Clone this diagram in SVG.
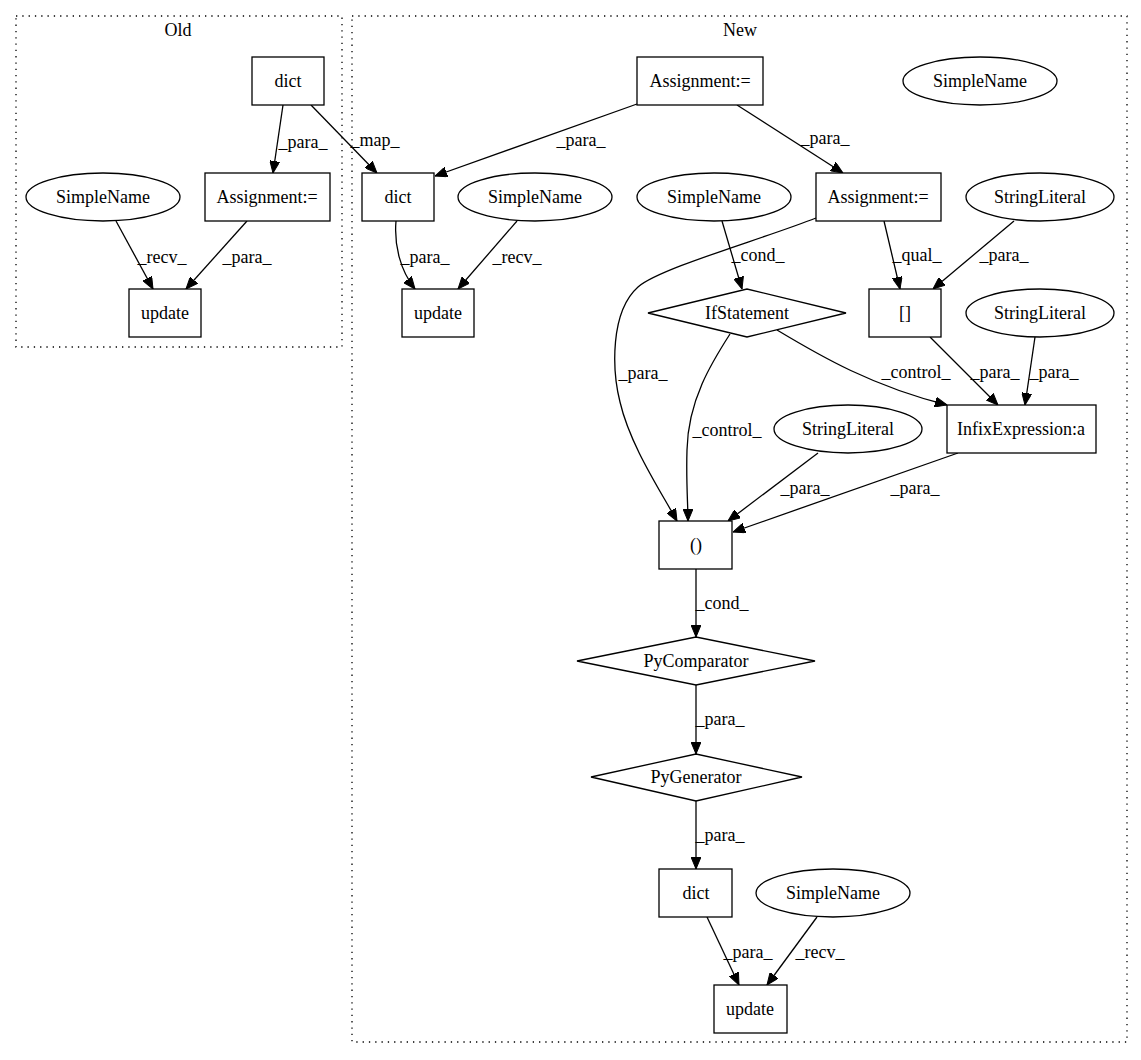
<svg xmlns="http://www.w3.org/2000/svg" width="1141" height="1060" viewBox="0 0 1141 1060">
<defs>
<marker id="ah" markerUnits="userSpaceOnUse" markerWidth="12" markerHeight="10" refX="12" refY="5" orient="auto">
<path d="M0,0 L12,5 L0,10 z" fill="#000" stroke="#000" stroke-width="1"/>
</marker>
<style>
text{font-family:"Liberation Serif","Times New Roman",serif;font-size:18px;fill:#000;text-anchor:middle}
.n rect,.n ellipse,.n polygon{fill:#fff;stroke:#000;stroke-width:1.3}
.cl{fill:none;stroke:#000;stroke-width:1.3;stroke-dasharray:1.3,5}
#edges path{fill:none;stroke:#000;stroke-width:1.3;marker-end:url(#ah)}
</style>
</defs>
<rect width="1141" height="1060" fill="#fff"/>
<g id="cluster_old"><rect class="cl" x="16" y="16" width="326" height="331"/><text x="178" y="36">Old</text></g>
<g id="cluster_new"><rect class="cl" x="352" y="16" width="775" height="1026"/><text x="740" y="36">New</text></g>

<g id="edges">
<path d="M283,105 L273,173"/>
<path d="M311,105 L377,173"/>
<path d="M116,221 L153,289"/>
<path d="M247,221 L186,289"/>
<path d="M637,104 L435,176"/>
<path d="M737,105 L843,173"/>
<path d="M396,221 C394,245 400,270 415,289"/>
<path d="M517,221 L458,289"/>
<path d="M722,221 L742,289"/>
<path d="M816,218 C760,240 660,268 638,287 C610,312 612,370 620,402 C630,445 660,490 677,521"/>
<path d="M884,221 L900,289"/>
<path d="M1014,221 L933,289"/>
<path d="M777,330 C822,357 872,386 947,405"/>
<path d="M730,334 C712,362 688,400 687,450 C686,482 688,505 688,521"/>
<path d="M930,337 L998,405"/>
<path d="M1035,337 L1025,405"/>
<path d="M818,453 L728,521"/>
<path d="M958,453 L733,532"/>
<path d="M696,569 L696,637"/>
<path d="M696,685 L696,754"/>
<path d="M696,801 L696,869"/>
<path d="M707,917 L739,985"/>
<path d="M817,917 L767,985"/>
</g>
<g id="edge_labels">
<text x="303" y="148">_para_</text>
<text x="375" y="146">_map_</text>
<text x="162" y="263">_recv_</text>
<text x="247" y="263">_para_</text>
<text x="581" y="146">_para_</text>
<text x="825" y="144">_para_</text>
<text x="425" y="263">_para_</text>
<text x="517" y="263">_recv_</text>
<text x="758" y="261">_cond_</text>
<text x="917" y="261">_qual_</text>
<text x="1004" y="261">_para_</text>
<text x="643" y="379">_para_</text>
<text x="727" y="436">_control_</text>
<text x="916" y="378">_control_</text>
<text x="995" y="378">_para_</text>
<text x="1054" y="378">_para_</text>
<text x="805" y="494">_para_</text>
<text x="915" y="494">_para_</text>
<text x="722" y="609">_cond_</text>
<text x="720" y="725">_para_</text>
<text x="720" y="841">_para_</text>
<text x="748" y="958">_para_</text>
<text x="820" y="958">_recv_</text>
</g>

<g id="old_dict" class="n"><rect x="252" y="57" width="72" height="48"/><text x="288" y="87">dict</text></g>
<g id="old_assign" class="n"><rect x="205" y="173" width="125" height="48"/><text x="267" y="203">Assignment:=</text></g>
<g id="old_simplename" class="n"><ellipse cx="103" cy="197" rx="77" ry="24"/><text x="103" y="203">SimpleName</text></g>
<g id="old_update" class="n"><rect x="129" y="289" width="72" height="48"/><text x="165" y="319">update</text></g>

<g id="new_assign_top" class="n"><rect x="637" y="57" width="126" height="48"/><text x="700" y="87">Assignment:=</text></g>
<g id="new_simplename_tr" class="n"><ellipse cx="980" cy="81" rx="77" ry="24"/><text x="980" y="87">SimpleName</text></g>
<g id="new_dict" class="n"><rect x="362" y="173" width="72" height="48"/><text x="398" y="203">dict</text></g>
<g id="new_simplename1" class="n"><ellipse cx="535" cy="197" rx="77" ry="24"/><text x="535" y="203">SimpleName</text></g>
<g id="new_update" class="n"><rect x="402" y="289" width="72" height="48"/><text x="438" y="319">update</text></g>
<g id="new_simplename2" class="n"><ellipse cx="714" cy="197" rx="77" ry="24"/><text x="714" y="203">SimpleName</text></g>
<g id="new_assign2" class="n"><rect x="816" y="173" width="125" height="48"/><text x="878" y="203">Assignment:=</text></g>
<g id="new_stringlit1" class="n"><ellipse cx="1040" cy="197" rx="74" ry="24"/><text x="1040" y="203">StringLiteral</text></g>
<g id="new_ifstatement" class="n"><polygon points="648,313 747,289 846,313 747,337"/><text x="747" y="319">IfStatement</text></g>
<g id="new_index" class="n"><rect x="869" y="289" width="72" height="48"/><text x="905" y="319">[]</text></g>
<g id="new_stringlit2" class="n"><ellipse cx="1040" cy="313" rx="74" ry="24"/><text x="1040" y="319">StringLiteral</text></g>
<g id="new_infix" class="n"><rect x="947" y="405" width="149" height="48"/><text x="1021" y="435">InfixExpression:a</text></g>
<g id="new_stringlit3" class="n"><ellipse cx="848" cy="429" rx="74" ry="24"/><text x="848" y="435">StringLiteral</text></g>
<g id="new_paren" class="n"><rect x="659" y="521" width="73" height="48"/><text x="696" y="551">()</text></g>
<g id="new_pycomparator" class="n"><polygon points="577,661 696,637 815,661 696,685"/><text x="696" y="667">PyComparator</text></g>
<g id="new_pygenerator" class="n"><polygon points="591,777 696,754 802,777 696,801"/><text x="696" y="783">PyGenerator</text></g>
<g id="new_dict2" class="n"><rect x="659" y="869" width="73" height="48"/><text x="696" y="899">dict</text></g>
<g id="new_simplename3" class="n"><ellipse cx="833" cy="893" rx="77" ry="24"/><text x="833" y="899">SimpleName</text></g>
<g id="new_update2" class="n"><rect x="714" y="985" width="73" height="48"/><text x="750" y="1015">update</text></g>
</svg>
